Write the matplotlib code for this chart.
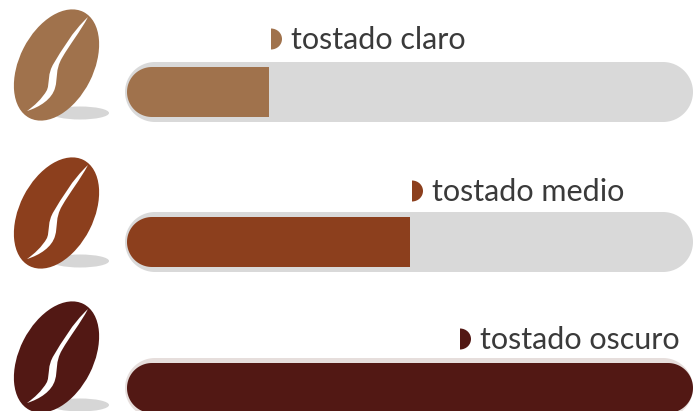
import numpy as np
import matplotlib
matplotlib.use("Agg")
import matplotlib.pyplot as plt
from matplotlib.patches import Ellipse, Polygon, PathPatch
from matplotlib.path import Path

labels = ["tostado claro", "tostado medio", "tostado oscuro"]
values = [25, 50, 100]
colors = ["#A0724C", "#8C3F1D", "#521814"]
track_colors = ["#D9D9D9", "#D9D9D9", "#E6DEDC"]
text_color = "#3A3A3A"

W, H = 694, 411
fig = plt.figure(figsize=(W / 100, H / 100), dpi=100, facecolor="white")
px = fig.add_axes([0, 0, 1, 1])
px.set_xlim(0, W)
px.set_ylim(H, 0)
px.axis("off")

bar_left, bar_right = 127, 693
val = fig.add_axes([bar_left / W, 0, (bar_right - bar_left) / W, 1], facecolor="none")
val.set_xlim(0, 100)
val.set_ylim(H, 0)
val.axis("off")

track_tops = [62, 212, 358]
fill_tops = [67, 217, 363]
bar_h = 50
bean_dy = [0, 148, 292]
text_x = [291, 432, 480]
text_y = [40, 192, 340]


def rounded(x0, y0, x1, y1, r, **kw):
    t = np.linspace(0, np.pi / 2, 24)
    pts = []
    pts += list(zip(x1 - r + r * np.sin(t), y0 + r - r * np.cos(t)))
    pts += list(zip(x1 - r + r * np.cos(t), y1 - r + r * np.sin(t)))
    pts += list(zip(x0 + r - r * np.sin(t), y1 - r + r * np.cos(t)))
    pts += list(zip(x0 + r - r * np.cos(t), y0 + r - r * np.sin(t)))
    return Polygon(pts, closed=True, transform=px.transData, linewidth=0, **kw)


def bean(dy, color):
    cx, cy = 56.5, 65 + dy
    px.add_patch(Ellipse((80, 113 + dy), 58, 13, facecolor="#D6D6D6", edgecolor="none", zorder=1))
    px.add_patch(Ellipse((cx, cy), 74, 119, angle=27, facecolor=color, edgecolor="none", zorder=2))
    verts = [(88, 17), (72, 32), (62, 50), (54, 63),
             (47, 74), (50, 82), (47, 90),
             (42, 99), (34, 106), (27, 111),
             (40, 107), (52, 99), (55, 88),
             (58, 78), (55, 70), (62, 58),
             (70, 44), (80, 32), (88, 17)]
    codes = [Path.MOVETO] + [Path.CURVE4] * 18
    path = Path([(x, y + dy) for x, y in verts], codes)
    px.add_patch(PathPatch(path, facecolor="white", edgecolor="none", zorder=3))


for i, (lab, v, c) in enumerate(zip(labels, values, colors)):
    bean(bean_dy[i], c)
    px.add_patch(rounded(125, track_tops[i], 693, track_tops[i] + 60, 30, facecolor=track_colors[i], zorder=1))
    clip = rounded(bar_left, fill_tops[i], bar_right, fill_tops[i] + bar_h, 25, facecolor="none")
    b = val.barh(fill_tops[i] + bar_h / 2, v, height=bar_h, left=0, color=c, linewidth=0, zorder=2)
    for r in b:
        r.set_clip_path(clip)
    # bullet marker before the label
    mx = text_x[i] - 20
    my = text_y[i] - 1
    marker = Ellipse((mx, my), 22, 21, facecolor=c, edgecolor="none", zorder=4)
    px.add_patch(marker)
    marker.set_clip_path(plt.Rectangle((mx, my - 12), 12, 24, transform=px.transData))
    px.text(text_x[i], text_y[i], lab, family="Lato", fontsize=22, color=text_color,
            va="center", ha="left", zorder=5)

fig.savefig("out.png", dpi=100, facecolor="white")
